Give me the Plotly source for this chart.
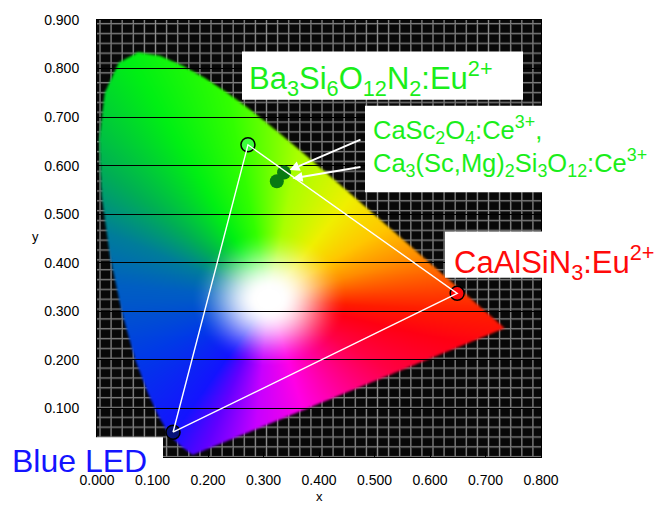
import base64
import struct
import zlib

import numpy as np
import plotly.graph_objects as go

# ---------------- data ----------------
# CIE 1931 2-degree spectral locus (380-700 nm)
locus_x = [0.1741, 0.1740, 0.1738, 0.1736, 0.1733, 0.1730, 0.1726, 0.1721, 0.1714, 0.1703,
           0.1689, 0.1669, 0.1644, 0.1611, 0.1566, 0.1510, 0.1440, 0.1355, 0.1241, 0.1096,
           0.0913, 0.0687, 0.0454, 0.0235, 0.0082, 0.0039, 0.0139, 0.0389, 0.0743, 0.1142,
           0.1547, 0.1929, 0.2296, 0.2658, 0.3016, 0.3373, 0.3731, 0.4087, 0.4441, 0.4788,
           0.5125, 0.5448, 0.5752, 0.6029, 0.6270, 0.6482, 0.6658, 0.6801, 0.6915, 0.7006,
           0.7079, 0.7140, 0.7190, 0.7230, 0.7260, 0.7283, 0.7300, 0.7311, 0.7320, 0.7334,
           0.7347]
locus_y = [0.0050, 0.0050, 0.0049, 0.0049, 0.0048, 0.0048, 0.0048, 0.0048, 0.0051, 0.0058,
           0.0069, 0.0086, 0.0109, 0.0138, 0.0177, 0.0227, 0.0297, 0.0399, 0.0578, 0.0868,
           0.1327, 0.2007, 0.2950, 0.4127, 0.5384, 0.6548, 0.7502, 0.8120, 0.8338, 0.8262,
           0.8059, 0.7816, 0.7543, 0.7243, 0.6923, 0.6589, 0.6245, 0.5896, 0.5547, 0.5202,
           0.4866, 0.4544, 0.4242, 0.3965, 0.3725, 0.3514, 0.3340, 0.3197, 0.3083, 0.2993,
           0.2920, 0.2859, 0.2809, 0.2770, 0.2740, 0.2717, 0.2700, 0.2689, 0.2680, 0.2666,
           0.2653]

point_names = ["Blue LED", "Ba3Si6O12N2:Eu2+", "CaSc2O4:Ce3+",
               "Ca3(Sc,Mg)2Si3O12:Ce3+", "CaAlSiN3:Eu2+"]
point_x = [0.137, 0.272, 0.337, 0.324, 0.649]
point_y = [0.051, 0.643, 0.586, 0.568, 0.337]
triangle_order = [0, 1, 4, 0]

x_ticks = [0.0, 0.1, 0.2, 0.3, 0.4, 0.5, 0.6, 0.7, 0.8]
y_ticks = [0.0, 0.1, 0.2, 0.3, 0.4, 0.5, 0.6, 0.7, 0.8, 0.9]

# ---------------- styling ----------------
X_RANGE = (0.0, 0.8)
Y_RANGE = (0.0, 0.9)
W, H = 656, 505
ML, MR, MT, MB = 97, 115, 13, 48
PW = W - ML - MR
PH = H - MT - MB
FONT = "Liberation Sans, Arial, sans-serif"

point_fill = ["#06127a", "#3cff3c", "#087a12", "#087a12", "#ff0a0a"]
point_line = ["black", "black", "rgba(0,0,0,0)", "rgba(0,0,0,0)", "black"]

# hue anchors (angle around white point -> colour) for the background diagram
WHITE = (0.31, 0.325)
hue_deg = [-180, -154, -122, -110, -95, -75, -55, -34, -15, -4, 8, 18, 35, 55, 80, 100, 117, 138, 155, 174, 180]
hue_rgb = [(0, 90, 200), (0, 60, 230), (20, 20, 255), (100, 0, 255), (200, 0, 255), (255, 0, 230),
           (255, 0, 150), (255, 0, 70), (255, 0, 20), (255, 30, 0), (255, 90, 0), (255, 140, 0),
           (255, 200, 0), (240, 240, 0), (170, 255, 0), (50, 255, 0), (0, 240, 20), (0, 175, 85),
           (0, 125, 155), (0, 95, 195), (0, 90, 200)]


def box_blur(a, r=1):
    p = np.pad(a, r, mode="edge")
    out = np.zeros_like(a)
    n = 2 * r + 1
    for dy in range(n):
        for dx in range(n):
            out += p[dy:dy + a.shape[0], dx:dx + a.shape[1]]
    return out / (n * n)


def make_background():
    S = 2
    nx, ny = PW * S, PH * S
    gx = X_RANGE[0] + (np.arange(nx) + 0.5) / nx * (X_RANGE[1] - X_RANGE[0])
    gy = Y_RANGE[1] - (np.arange(ny) + 0.5) / ny * (Y_RANGE[1] - Y_RANGE[0])
    GX, GY = np.meshgrid(gx, gy)
    lx = np.array(locus_x)
    ly = np.array(locus_y)
    n = len(lx)
    inside = np.zeros(GX.shape, dtype=bool)
    for i in range(n):
        x1, y1 = lx[i], ly[i]
        x2, y2 = lx[(i + 1) % n], ly[(i + 1) % n]
        dy = (y2 - y1) if abs(y2 - y1) > 1e-12 else 1e-12
        cond = (y1 > GY) != (y2 > GY)
        xint = (x2 - x1) * (GY - y1) / dy + x1
        inside ^= cond & (GX < xint)
    ang = np.degrees(np.arctan2(GY - WHITE[1], GX - WHITE[0]))
    d = np.hypot(GX - WHITE[0], GY - WHITE[1])
    s = np.clip((d - 0.022) / 0.12, 0, 1)
    s = s * s * (3 - 2 * s)
    col = np.zeros(GX.shape + (3,))
    for c in range(3):
        hc = np.interp(ang, hue_deg, [h[c] for h in hue_rgb])
        col[..., c] = 255 * (1 - s) + hc * s
    # downsample
    col = col.reshape(PH, S, PW, S, 3).mean(axis=(1, 3))
    m = inside.astype(float).reshape(PH, S, PW, S).mean(axis=(1, 3))
    m = box_blur(box_blur(m, 1), 1)
    # graph-paper background
    cx = np.arange(PW) + 0.5
    cy = np.arange(PH) + 0.5
    dxl = np.abs(((cx - 3.0 + 5.55) % 11.1) - 5.55)
    dyl = np.abs(((cy - 3.7 + 5.0) % 10.0) - 5.0)
    ix = np.clip(1 - dxl / 1.3, 0, 1) * 135
    iy = np.clip(1 - dyl / 1.3, 0, 1) * 135
    bg = np.maximum(ix[None, :], iy[:, None]) + 8
    out = col * m[..., None] + bg[..., None] * (1 - m[..., None])
    return np.clip(out, 0, 255).astype(np.uint8)


def png_uri(arr):
    h, w, _ = arr.shape
    raw = b"".join(b"\x00" + arr[i].tobytes() for i in range(h))

    def chunk(t, dat):
        return struct.pack(">I", len(dat)) + t + dat + struct.pack(">I", zlib.crc32(t + dat) & 0xFFFFFFFF)

    png = (b"\x89PNG\r\n\x1a\n" + chunk(b"IHDR", struct.pack(">IIBBBBB", w, h, 8, 2, 0, 0, 0))
           + chunk(b"IDAT", zlib.compress(raw, 9)) + chunk(b"IEND", b""))
    return "data:image/png;base64," + base64.b64encode(png).decode()


def pxx(v):
    return (v - ML) / PW


def pxy(v):
    return (MT + PH - v) / PH


fig = go.Figure()

# markers
for i in range(len(point_names)):
    fig.add_trace(go.Scatter(
        x=[point_x[i]], y=[point_y[i]], mode="markers", name=point_names[i],
        marker=dict(size=14, color=point_fill[i], line=dict(color=point_line[i], width=1.5)),
        showlegend=False, hoverinfo="skip"))

# triangle
fig.add_trace(go.Scatter(
    x=[point_x[k] for k in triangle_order], y=[point_y[k] for k in triangle_order],
    mode="lines", line=dict(color="white", width=1.4), showlegend=False, hoverinfo="skip"))

fig.add_layout_image(dict(
    source=png_uri(make_background()), xref="x", yref="y", x=X_RANGE[0], y=Y_RANGE[1],
    sizex=X_RANGE[1] - X_RANGE[0], sizey=Y_RANGE[1] - Y_RANGE[0], sizing="stretch",
    xanchor="left", yanchor="top", layer="below"))

# white label boxes
boxes = [(242, 45, 523, 94), (365, 100, 656, 188), (445, 228, 656, 275), (0, 437, 163, 475)]
for (x0, y0, x1, y1) in boxes:
    fig.add_shape(type="rect", xref="paper", yref="paper", x0=pxx(x0), x1=pxx(x1),
                  y0=pxy(y1), y1=pxy(y0), fillcolor="white", line=dict(width=0), layer="above")

ann = []
ann.append(dict(text="Ba<sub>3</sub>Si<sub>6</sub>O<sub>12</sub>N<sub>2</sub>:Eu<sup>2+</sup>",
                x=pxx(247), y=pxy(72), xanchor="left", yanchor="middle",
                font=dict(size=31, color="#1aee1a", family=FONT)))
ann.append(dict(text="CaSc<sub>2</sub>O<sub>4</sub>:Ce<sup>3+</sup>,<br>Ca<sub>3</sub>(Sc,Mg)<sub>2</sub>Si<sub>3</sub>O<sub>12</sub>:Ce<sup>3+</sup>",
                x=pxx(371), y=pxy(142), xanchor="left", yanchor="middle", align="left",
                font=dict(size=25.5, color="#1aee1a", family=FONT)))
ann.append(dict(text="CaAlSiN<sub>3</sub>:Eu<sup>2+</sup>",
                x=pxx(452), y=pxy(259), xanchor="left", yanchor="middle",
                font=dict(size=31, color="#ff0a0a", family=FONT)))
ann.append(dict(text="Blue LED", x=pxx(10), y=pxy(461), xanchor="left", yanchor="middle",
                font=dict(size=32, color="#1414ff", family=FONT)))
ann.append(dict(text="x", x=0.5, y=pxy(497), xanchor="center", yanchor="middle",
                font=dict(size=13, color="black", family=FONT)))
ann.append(dict(text="y", x=pxx(35), y=pxy(233), xanchor="center", yanchor="middle",
                font=dict(size=13, color="black", family=FONT)))
for a in ann:
    a.update(xref="paper", yref="paper", showarrow=False)

# arrows toward the two Ce3+ phosphors
arrow_tails = [(0.4775, 0.655), (0.4775, 0.598)]
arrow_standoff = [6, 16]
for j, idx in enumerate([2, 3]):
    ann.append(dict(x=point_x[idx], y=point_y[idx], xref="x", yref="y",
                    ax=arrow_tails[j][0], ay=arrow_tails[j][1], axref="x", ayref="y",
                    text="", showarrow=True, arrowhead=2, arrowsize=1, arrowwidth=2,
                    arrowcolor="white", standoff=arrow_standoff[j]))

fig.update_layout(
    width=W, height=H, margin=dict(l=ML, r=MR, t=MT, b=MB, pad=0),
    paper_bgcolor="white", plot_bgcolor="black",
    font=dict(family=FONT, size=14, color="black"),
    annotations=ann, showlegend=False,
)
fig.update_xaxes(range=list(X_RANGE), tickvals=x_ticks, tickformat=".3f", showgrid=False,
                 zeroline=False, showline=True, linecolor="black", linewidth=1, mirror=True,
                 ticks="inside", ticklen=5, tickcolor="black", ticklabelstandoff=10,
                 tickfont=dict(size=14, color="black", family=FONT))
fig.update_yaxes(range=list(Y_RANGE), tickvals=y_ticks, tickformat=".3f", showgrid=True,
                 gridcolor="black", gridwidth=1.2, zeroline=False, showline=True,
                 linecolor="black", linewidth=1, mirror=True, ticks="inside", ticklen=5,
                 tickcolor="black", ticklabelstandoff=14,
                 tickfont=dict(size=14, color="black", family=FONT))

fig.write_html("out.html")
